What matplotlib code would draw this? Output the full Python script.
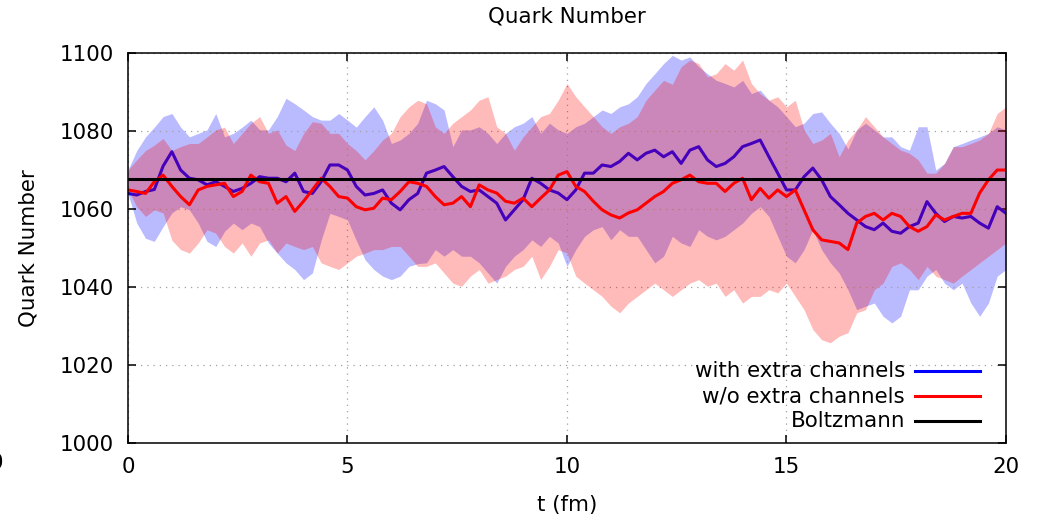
import numpy as np
import matplotlib
matplotlib.use('Agg')
import matplotlib.pyplot as plt

# time grid (fm), 0.2 fm steps
t = np.linspace(0, 20, 101)

with_mean = [
    1064, 1063.6, 1064.5, 1065, 1071, 1074.7, 1070, 1067.9, 1067.5, 1066.2,
    1067, 1065.8, 1064.5, 1065.3, 1066.6, 1068.3, 1067.9, 1067.9, 1067, 1069.2,
    1064.5, 1064, 1067, 1071.3, 1071.3, 1070, 1065.8, 1063.6, 1064, 1064.9,
    1061.5, 1059.8, 1062.4, 1064,
    1069.2, 1070, 1070.9, 1068.3, 1065.8, 1064.5, 1064.9, 1063.2, 1061.5, 1057.2,
    1059.8, 1062.4, 1067.9, 1066.6, 1064.9, 1064.1, 1062.4, 1064.9, 1069.2, 1069.2,
    1071.3, 1070.9, 1072.2, 1074.3, 1072.6, 1074.3, 1075.1, 1073.4, 1074.7, 1071.7,
    1075.1, 1076, 1072.6,
    1070.9, 1071.7, 1073.4, 1076, 1076.8, 1077.7, 1073.4, 1069.2, 1064.9, 1064.9,
    1068.3, 1070.5, 1067.5, 1063.2, 1061.1, 1058.9, 1057.2, 1055.5, 1054.7, 1056.4,
    1054.3, 1053.8, 1055.5, 1056.4, 1061.9, 1058.9, 1056.8, 1058.1, 1057.7, 1058.1,
    1056.4, 1055.1, 1060.6, 1058.9,
]
with_hi = [
    1070, 1075, 1078.5, 1081, 1083.7, 1084.5, 1081, 1078.5, 1079.4, 1080.3,
    1084.5, 1078.5, 1079.4, 1081, 1082.8, 1080.3, 1080.3, 1083.7, 1088.4, 1087,
    1085.4, 1083.7, 1082.8, 1082.8, 1084.5, 1082.8, 1081, 1083.7, 1086.2, 1082.8,
    1076.8, 1077.7, 1079.4, 1082,
    1087.9, 1087, 1085.4, 1076, 1080.3, 1080.3, 1081.1, 1079.4, 1076.8, 1079.4,
    1081.1, 1082, 1083.7, 1079.4, 1082, 1080.3, 1079.4, 1081.1, 1082, 1083.7,
    1085.4, 1084.5, 1086.2, 1087, 1088.8, 1092.2, 1094.7, 1097.3, 1099.4, 1098.2,
    1099, 1096.5, 1094.7,
    1093, 1092.2, 1091.3, 1093, 1089.6, 1090.5, 1087.9, 1086.2, 1083.7, 1081.1,
    1082, 1084.5, 1084.9, 1082, 1079.4, 1075.4, 1080.3, 1082, 1080.3, 1078.5,
    1078.5, 1076, 1075.1, 1081.1, 1081.1, 1070, 1071.7, 1076, 1076.8, 1077.7,
    1078.5, 1079.4, 1081.1, 1080.3,
]
with_lo = [
    1064, 1056.4, 1052.5, 1051.7, 1055.5, 1059, 1060.6, 1059.8, 1056.4, 1051.7,
    1050.4, 1054.3, 1056.4, 1054.7, 1056.4, 1055.5, 1051.3, 1048.7, 1046.2, 1044.5,
    1041.9, 1043.6, 1052, 1058.9, 1058.1, 1057.2, 1052, 1047, 1044.5, 1042.8,
    1041.9, 1042.8, 1045.3, 1046,
    1046.2, 1049.6, 1047.9, 1049.6, 1047.9, 1047.9, 1046.2, 1043.6, 1041, 1045.3,
    1047.9, 1049.6, 1052.1, 1050.4, 1053, 1051.3, 1045.3, 1049.6, 1053, 1054.7,
    1055.5, 1052.1, 1054.7, 1053, 1053, 1049.6, 1046.2, 1047.9, 1053, 1051.3,
    1050.4, 1054.7, 1053,
    1052.1, 1053, 1054.7, 1056.4, 1058.9, 1060.6, 1058.1, 1053, 1047.9, 1046.2,
    1049.6, 1054.7, 1049.6, 1046.2, 1043.6, 1039.3, 1034.2, 1035.1, 1035.9, 1032.5,
    1030.8, 1032.5, 1039.3, 1039.3, 1042.8, 1044.5, 1041, 1039.3, 1041, 1035.9,
    1032.5, 1035.9, 1042.8, 1044.5,
]

wo_mean = [
    1064.9, 1064.5, 1064, 1067, 1068.7, 1065.8, 1063.2, 1061.1, 1064.9, 1065.8,
    1066.2, 1066.6, 1063.2, 1064.5, 1068.7, 1067, 1066.6, 1061.5, 1063.2, 1059.4,
    1062, 1064.9, 1067.9, 1065.8, 1063.2, 1062.8, 1060.6, 1059.8, 1060.2, 1062.8,
    1062.4, 1064.5, 1067, 1066.6,
    1065.8, 1063.2, 1061.1, 1061.5, 1063.2, 1060.6, 1066.2, 1064.9, 1064.1, 1062,
    1061.5, 1062.8, 1060.6, 1062.8, 1064.9, 1068.7, 1069.6, 1065.8, 1064.5, 1062,
    1059.8, 1058.5, 1057.7, 1059, 1059.8, 1061.5, 1063.2, 1064.5, 1066.6, 1067.5,
    1068.7, 1067, 1066.6,
    1066.6, 1064.5, 1066.6, 1067.9, 1062.4, 1065.3, 1062.8, 1064.9, 1063.2, 1064.9,
    1059.8, 1054.7, 1052.1, 1051.7, 1051.3, 1049.6, 1056.4, 1058.1, 1058.9, 1057.2,
    1058.9, 1058.1, 1055.5, 1054.3, 1055.5, 1058.5, 1057.2, 1058.1, 1058.9, 1058.9,
    1064.1, 1067.5, 1070, 1070,
]
wo_hi = [
    1070, 1072.6, 1075, 1076.4, 1078.1, 1075, 1076, 1076.8, 1076.8, 1078.5,
    1080.3, 1081, 1076.8, 1079.4, 1082, 1083.7, 1079.4, 1080.3, 1076.4, 1075,
    1079.4, 1082.4, 1082, 1079.4, 1079.4, 1076.8, 1075, 1072.6, 1075, 1077.7,
    1079.4, 1083.7, 1086.2, 1087.9,
    1087, 1081.1, 1079.4, 1082, 1083.7, 1085.4, 1087.9, 1088.8, 1081.1, 1079.4,
    1075.1, 1078.5, 1081.1, 1083.7, 1084.5, 1087.9, 1092.2, 1088.8, 1086.2, 1083.7,
    1081.1, 1079.4, 1081.1, 1082, 1083.7, 1087.9, 1090.5, 1093, 1092, 1096.5,
    1098.2, 1097.3, 1093.9,
    1094.7, 1097.3, 1095.6, 1098.2, 1092.2, 1089.6, 1087.9, 1088.8, 1086.2, 1087.9,
    1080.3, 1076.8, 1077.7, 1079.4, 1073.4, 1077.7, 1080.3, 1083.7, 1081.1, 1078.5,
    1076.8, 1075.1, 1074.3, 1072.6, 1069.2, 1069.2, 1071.7, 1076, 1076, 1076.8,
    1077.7, 1079.4, 1084.5, 1086.2,
]
wo_lo = [
    1065, 1060.6, 1058.1, 1059.8, 1059, 1052, 1049.6, 1048.7, 1051.3, 1054.7,
    1053.8, 1050.4, 1048.7, 1051.3, 1047.9, 1051.3, 1052.1, 1048.7, 1051.3, 1050.4,
    1049.6, 1050.4, 1046.2, 1045.3, 1044.5, 1046.2, 1047.9, 1048.7, 1049.6, 1049.6,
    1050.4, 1050.4, 1047.9, 1045.3,
    1045.3, 1046.2, 1043.6, 1041, 1040.2, 1042.8, 1044.5, 1041, 1041.9, 1042.8,
    1044.5, 1045.3, 1047.9, 1041.9, 1045.3, 1049.6, 1048.7, 1042.8, 1041, 1039.3,
    1037.6, 1035.1, 1033.4, 1035.9, 1037.6, 1039.3, 1041, 1039.3, 1037.6, 1039.3,
    1041, 1041.9, 1040.2,
    1041, 1037.6, 1039.3, 1035.9, 1037.6, 1037.6, 1039.3, 1038.5, 1041, 1037.6,
    1034.2, 1029.1, 1026.5, 1025.7, 1027.4, 1028.3, 1033.4, 1034.2, 1039.3, 1041,
    1045.3, 1046.2, 1044.5, 1041.9, 1045.3, 1042.8, 1041.9, 1041, 1042.8, 1044.5,
    1046.2, 1047.9, 1049.6, 1051.3,
]

boltzmann = 1067.7

labels = ['with extra channels', 'w/o extra channels', 'Boltzmann']
colors = ['#0000ff', '#ff0000', '#000000']

plt.rcParams['font.family'] = 'DejaVu Sans'
plt.rcParams['font.size'] = 15.4

fig = plt.figure(figsize=(10.37, 5.2), dpi=100)
ax = fig.add_axes([0.1234, 0.148, 0.8467, 0.750])

# blue band + line drawn first, red band goes over it (so blue line looks purple)
ax.fill_between(t, with_lo, with_hi, color=colors[0], alpha=0.27, lw=0, zorder=1)
ax.plot(t, with_mean, color=colors[0], lw=2.2, zorder=2)
ax.fill_between(t, wo_lo, wo_hi, color=colors[1], alpha=0.27, lw=0, zorder=3)
ax.plot(t, wo_mean, color=colors[1], lw=2.2, zorder=4)
ax.axhline(boltzmann, color=colors[2], lw=2.2, zorder=5)

ax.set_xlim(0, 20)
ax.set_ylim(1000, 1100)
ax.set_xticks([0, 5, 10, 15, 20])
ax.set_yticks(np.arange(1000, 1101, 20))
ax.grid(True, color='#a0a0a0', linestyle=(0, (1, 4)), lw=0.9)
ax.tick_params(direction='in', length=6, width=1.1, top=True, right=True)
ax.tick_params(axis='x', pad=10)
ax.tick_params(axis='y', pad=10)
for s in ax.spines.values():
    s.set_linewidth(1.1)
    s.set_zorder(6)

ax.set_title('Quark Number', fontsize=15.4, pad=22)
ax.set_xlabel('t (fm)', labelpad=13)
ax.set_ylabel('Quark Number', labelpad=15)

# gnuplot style key: right-aligned text, line sample on the right
for i, (lab, col) in enumerate(zip(labels, colors)):
    yk = 0.1846 - i * 0.0641
    ax.text(0.885, yk, lab, transform=ax.transAxes, ha='right', va='center', zorder=7)
    ax.plot([0.8964, 0.9704], [yk, yk], transform=ax.transAxes, color=col,
            lw=2.2, zorder=7, clip_on=False)

# clipped stray label at the far left edge
fig.text(-0.01, 0.11, '0', va='center')

fig.savefig('out.png', dpi=100)
